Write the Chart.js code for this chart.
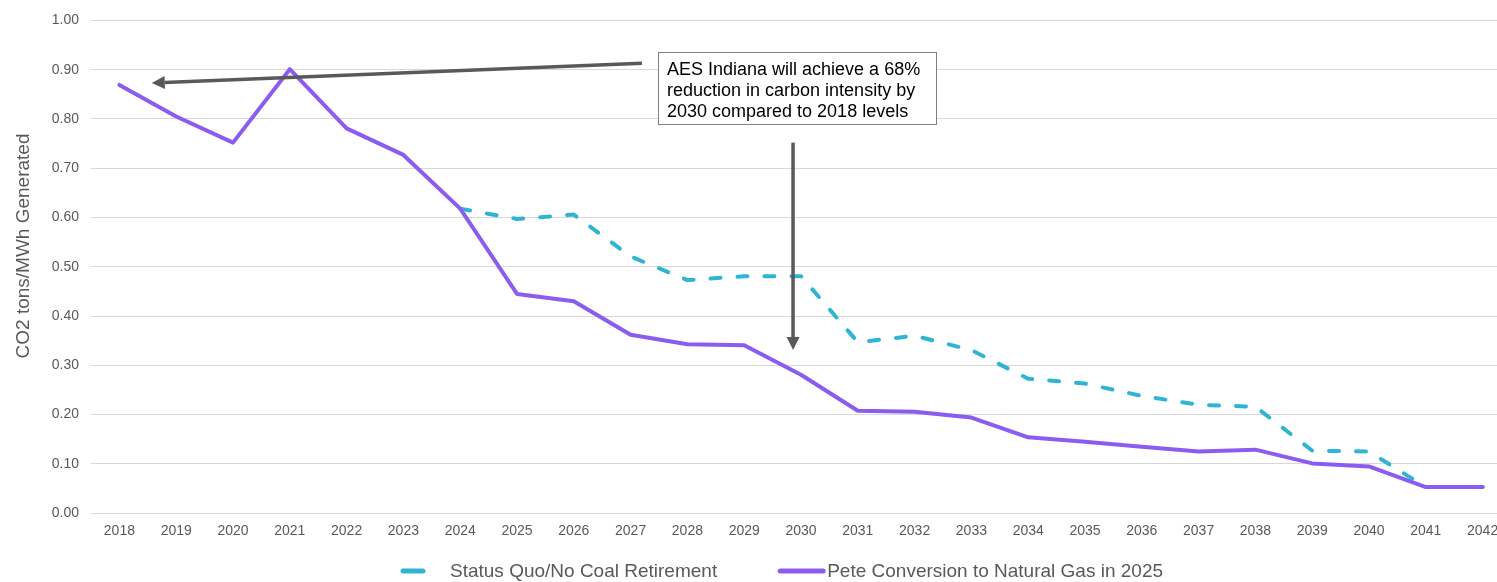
<!DOCTYPE html>
<html>
<head>
<meta charset="utf-8">
<script src="https://cdn.jsdelivr.net/npm/chart.js@4.4.1/dist/chart.umd.min.js"></script>
<style>
  html, body { margin: 0; padding: 0; background: #fff; overflow: hidden; }
  #wrap { width: 1514px; height: 582px; }
</style>
</head>
<body>
<div id="wrap"><canvas id="intensityChart" width="1514" height="582"></canvas></div>
<script>
// CO2 intensity, tons per MWh generated
const years = ['2018', '2019', '2020', '2021', '2022', '2023', '2024', '2025', '2026', '2027', '2028', '2029', '2030',
               '2031', '2032', '2033', '2034', '2035', '2036', '2037', '2038', '2039', '2040', '2041', '2042'];

const statusQuo = [null, null, null, null, null, null, 0.618, 0.597, 0.606, 0.521, 0.473, 0.481, 0.481,
                   0.347, 0.360, 0.331, 0.273, 0.263, 0.238, 0.220, 0.216, 0.127, 0.125, 0.053, 0.053];

const peteConversion = [0.869, 0.805, 0.752, 0.901, 0.781, 0.727, 0.618, 0.445, 0.430, 0.362, 0.343, 0.341, 0.281,
                        0.208, 0.206, 0.194, 0.154, 0.145, 0.135, 0.125, 0.129, 0.101, 0.095, 0.053, 0.053];

const seriesNames = ['Status Quo/No Coal Retirement', 'Pete Conversion to Natural Gas in 2025'];
const yAxisTitle = 'CO2 tons/MWh Generated';
const noteLines = ['AES Indiana will achieve a 68%', 'reduction in carbon intensity by', '2030 compared to 2018 levels'];

const GREY = '#595959';
const FONT = '"Liberation Sans", Arial, sans-serif';

// arrows and the note box, anchored in (category index, value) units
const arrows = [
  { from: [9.20, 0.913], to: [0.57, 0.873] },
  { from: [11.86, 0.752], to: [11.86, 0.331] }
];
const noteBox = { x1: 9.48, y1: 0.935, x2: 14.37, y2: 0.790 };

function drawArrow(ctx, x0, y0, x1, y1) {
  const ang = Math.atan2(y1 - y0, x1 - x0);
  const headLen = 13, headHalf = 6.5;
  const bx = x1 - Math.cos(ang) * headLen, by = y1 - Math.sin(ang) * headLen;
  ctx.save();
  ctx.strokeStyle = GREY;
  ctx.fillStyle = GREY;
  ctx.lineWidth = 3.5;
  ctx.beginPath();
  ctx.moveTo(x0, y0);
  ctx.lineTo(bx, by);
  ctx.stroke();
  ctx.beginPath();
  ctx.moveTo(x1, y1);
  ctx.lineTo(bx + Math.sin(ang) * headHalf, by - Math.cos(ang) * headHalf);
  ctx.lineTo(bx - Math.sin(ang) * headHalf, by + Math.cos(ang) * headHalf);
  ctx.closePath();
  ctx.fill();
  ctx.restore();
}

const callouts = {
  id: 'callouts',
  afterDatasetsDraw(chart) {
    const { ctx, scales: { x, y } } = chart;
    arrows.forEach(a => {
      drawArrow(ctx, x.getPixelForValue(a.from[0]), y.getPixelForValue(a.from[1]),
                x.getPixelForValue(a.to[0]), y.getPixelForValue(a.to[1]));
    });

    const left = Math.round(x.getPixelForValue(noteBox.x1)) + 0.5;
    const right = Math.round(x.getPixelForValue(noteBox.x2)) + 0.5;
    const top = Math.round(y.getPixelForValue(noteBox.y1)) + 0.5;
    const bottom = Math.round(y.getPixelForValue(noteBox.y2)) + 0.5;
    ctx.save();
    ctx.fillStyle = '#fff';
    ctx.fillRect(left, top, right - left, bottom - top);
    ctx.strokeStyle = '#7f7f7f';
    ctx.lineWidth = 1;
    ctx.strokeRect(left, top, right - left, bottom - top);
    ctx.fillStyle = '#000';
    ctx.font = '18px ' + FONT;
    ctx.textBaseline = 'alphabetic';
    noteLines.forEach((t, i) => ctx.fillText(t, left + 8.5, top + 22 + i * 21));
    ctx.restore();
  },
  afterDraw(chart) {
    const { ctx } = chart;
    ctx.save();

    // rotated y axis title
    ctx.translate(24, 246);
    ctx.rotate(-Math.PI / 2);
    ctx.font = '19px ' + FONT;
    ctx.fillStyle = GREY;
    ctx.textAlign = 'center';
    ctx.textBaseline = 'middle';
    ctx.fillText(yAxisTitle, 0, 0);
    ctx.setTransform(1, 0, 0, 1, 0, 0);

    // legend along the bottom
    const ly = chart.height - 11;
    let lx = 400;
    ctx.font = '19px ' + FONT;
    ctx.textAlign = 'left';
    chart.data.datasets.forEach(ds => {
      ctx.beginPath();
      ctx.strokeStyle = ds.borderColor;
      ctx.lineWidth = 5;
      ctx.lineCap = 'round';
      ctx.setLineDash(ds.borderDash ? [20, 40] : []);
      ctx.moveTo(lx + 3, ly);
      ctx.lineTo(lx + 46, ly);
      ctx.stroke();
      ctx.setLineDash([]);
      ctx.fillStyle = GREY;
      ctx.fillText(ds.label, lx + 50, ly + 1);
      lx += 50 + ctx.measureText(ds.label).width + 60;
    });
    ctx.restore();
  }
};

new Chart(document.getElementById('intensityChart'), {
  type: 'line',
  data: {
    labels: years,
    datasets: [{
      label: seriesNames[0],
      data: statusQuo,
      borderColor: '#2fb4d4',
      borderWidth: 4,
      borderDash: [10, 17],
      borderCapStyle: 'round',
      borderJoinStyle: 'round',
      pointRadius: 0,
      tension: 0,
      order: 1
    }, {
      label: seriesNames[1],
      data: peteConversion,
      borderColor: '#8b5cf0',
      borderWidth: 4,
      borderCapStyle: 'round',
      borderJoinStyle: 'round',
      pointRadius: 0,
      tension: 0,
      order: 0
    }]
  },
  options: {
    responsive: false,
    animation: false,
    layout: { padding: { top: 18, right: 3, bottom: 32, left: 0 } },
    plugins: {
      legend: { display: false },
      tooltip: { enabled: false }
    },
    scales: {
      x: {
        offset: true,
        grid: { display: false, drawTicks: false },
        border: { display: false },
        ticks: { color: GREY, font: { family: FONT, size: 14 }, padding: 10, maxRotation: 0, autoSkip: false }
      },
      y: {
        min: 0,
        max: 1,
        afterFit: s => { s.width = 91; },
        grid: { color: '#d9d9d9', lineWidth: 1, drawTicks: false },
        border: { display: false },
        ticks: {
          stepSize: 0.1,
          color: GREY,
          padding: 12,
          font: { family: FONT, size: 14 },
          callback: v => v.toFixed(2)
        }
      }
    }
  },
  plugins: [callouts]
});
</script>
</body>
</html>
